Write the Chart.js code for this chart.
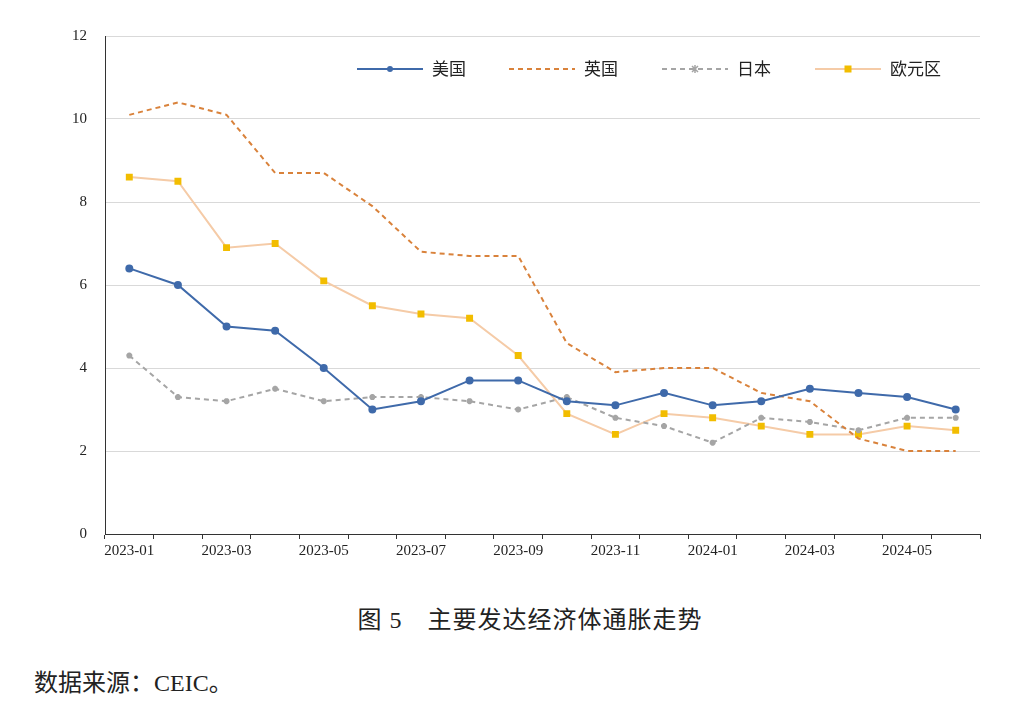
<!DOCTYPE html>
<html>
<head>
<meta charset="utf-8">
<script src="https://cdn.jsdelivr.net/npm/chart.js"></script>
<style>
body { margin: 0; background: #fff; width: 1035px; height: 713px; overflow: hidden; position: relative; }
#wrap { position: absolute; left: 0; top: 0; width: 1035px; height: 585px; }
#title { position: absolute; top: 600px; left: 0; width: 1060px; text-align: center; font: 24px "Liberation Serif", "Noto Sans CJK SC", serif; color: #222; letter-spacing: 1px; }
#src { position: absolute; top: 663px; left: 34px; font: 24px "Liberation Serif", "Noto Sans CJK SC", serif; color: #222; }
</style>
</head>
<body>
<div id="wrap"><canvas id="c" width="1035" height="585" style="width:1035px;height:585px"></canvas></div>
<div id="title">图 5　主要发达经济体通胀走势</div>
<div id="src">数据来源：CEIC。</div>
<script>
const months = ['2023-01','2023-02','2023-03','2023-04','2023-05','2023-06','2023-07','2023-08','2023-09','2023-10','2023-11','2023-12','2024-01','2024-02','2024-03','2024-04','2024-05','2024-06'];
const us = [6.4,6.0,5.0,4.9,4.0,3.0,3.2,3.7,3.7,3.2,3.1,3.4,3.1,3.2,3.5,3.4,3.3,3.0];
const uk = [10.1,10.4,10.1,8.7,8.7,7.9,6.8,6.7,6.7,4.6,3.9,4.0,4.0,3.4,3.2,2.3,2.0,2.0];
const jp = [4.3,3.3,3.2,3.5,3.2,3.3,3.3,3.2,3.0,3.3,2.8,2.6,2.2,2.8,2.7,2.5,2.8,2.8];
const ez = [8.6,8.5,6.9,7.0,6.1,5.5,5.3,5.2,4.3,2.9,2.4,2.9,2.8,2.6,2.4,2.4,2.6,2.5];

const legendPlugin = {
    id: 'inLegend',
    afterDraw(chart) {
        const ctx = chart.ctx;
        const xs = [357, 509, 662, 815];
        const y = 69;
        chart.data.datasets.forEach((ds, i) => {
            const x = xs[i];
            ctx.save();
            ctx.strokeStyle = ds.borderColor;
            ctx.lineWidth = 2;
            ctx.setLineDash(ds.borderDash || []);
            ctx.beginPath(); ctx.moveTo(x, y); ctx.lineTo(x + 66, y); ctx.stroke();
            ctx.setLineDash([]);
            ctx.fillStyle = ds.pointBackgroundColor;
            ctx.strokeStyle = ds.pointBorderColor;
            if (ds.pointStyle === 'circle') { ctx.beginPath(); ctx.arc(x + 33, y, 3, 0, 7); ctx.fill(); }
            else if (ds.pointStyle === 'rect') { ctx.fillRect(x + 29.5, y - 3.5, 7, 7); }
            else if (ds.pointStyle === 'star') { ctx.lineWidth = 1.5; ctx.beginPath(); ctx.moveTo(x+30,y-3);ctx.lineTo(x+36,y+3);ctx.moveTo(x+36,y-3);ctx.lineTo(x+30,y+3);ctx.moveTo(x+33,y-4);ctx.lineTo(x+33,y+4);ctx.stroke(); }
            ctx.fillStyle = '#222';
            ctx.font = '17px "Noto Sans CJK SC", sans-serif';
            ctx.textBaseline = 'middle';
            ctx.fillText(ds.label, x + 75, y);
            ctx.restore();
        });
    }
};

new Chart(document.getElementById('c'), {
    type: 'line',
    data: {
        labels: months,
        datasets: [
            { label: '美国', data: us, borderColor: '#3f6aaa', borderWidth: 2, pointStyle: 'circle', pointRadius: 3, pointBackgroundColor: '#3f6aaa', pointBorderColor: '#3f6aaa' },
            { label: '英国', data: uk, borderColor: '#d9823b', borderWidth: 2, borderDash: [5, 4], pointRadius: 0, pointStyle: 'line', pointBackgroundColor: '#d9823b', pointBorderColor: '#d9823b' },
            { label: '日本', data: jp, borderColor: '#a5a5a5', borderWidth: 2, borderDash: [5, 4], pointStyle: 'star', pointRadius: 3, pointBackgroundColor: '#a5a5a5', pointBorderColor: '#a5a5a5' },
            { label: '欧元区', data: ez, borderColor: '#f5cba7', borderWidth: 2, pointStyle: 'rect', pointRadius: 3.5, pointBackgroundColor: '#f2bd00', pointBorderColor: '#f2bd00' }
        ]
    },
    options: {
        responsive: false,
        animation: false,
        devicePixelRatio: 1,
        layout: { padding: { top: 36, right: 55, left: 0, bottom: 0 } },
        plugins: { legend: { display: false }, tooltip: { enabled: false } },
        scales: {
            x: {
                offset: true,
                afterFit: s => { s.height = 51; },
                border: { color: '#333', width: 1 },
                grid: { drawOnChartArea: false, drawTicks: true, tickLength: 5, offset: true, color: '#333' },
                ticks: {
                    autoSkip: false, maxRotation: 0, color: '#222',
                    font: { family: '"Liberation Serif", serif', size: 15 },
                    callback: function (v, i) { return i % 2 === 0 ? months[i] : ''; }
                }
            },
            y: {
                min: 0, max: 12,
                afterFit: s => { s.width = 105; },
                border: { color: '#333', width: 1 },
                grid: { color: '#d9d9d9', drawTicks: false },
                ticks: { stepSize: 2, padding: 18, color: '#222', font: { family: '"Liberation Serif", serif', size: 15 } }
            }
        }
    },
    plugins: [legendPlugin]
});
</script>
</body>
</html>
